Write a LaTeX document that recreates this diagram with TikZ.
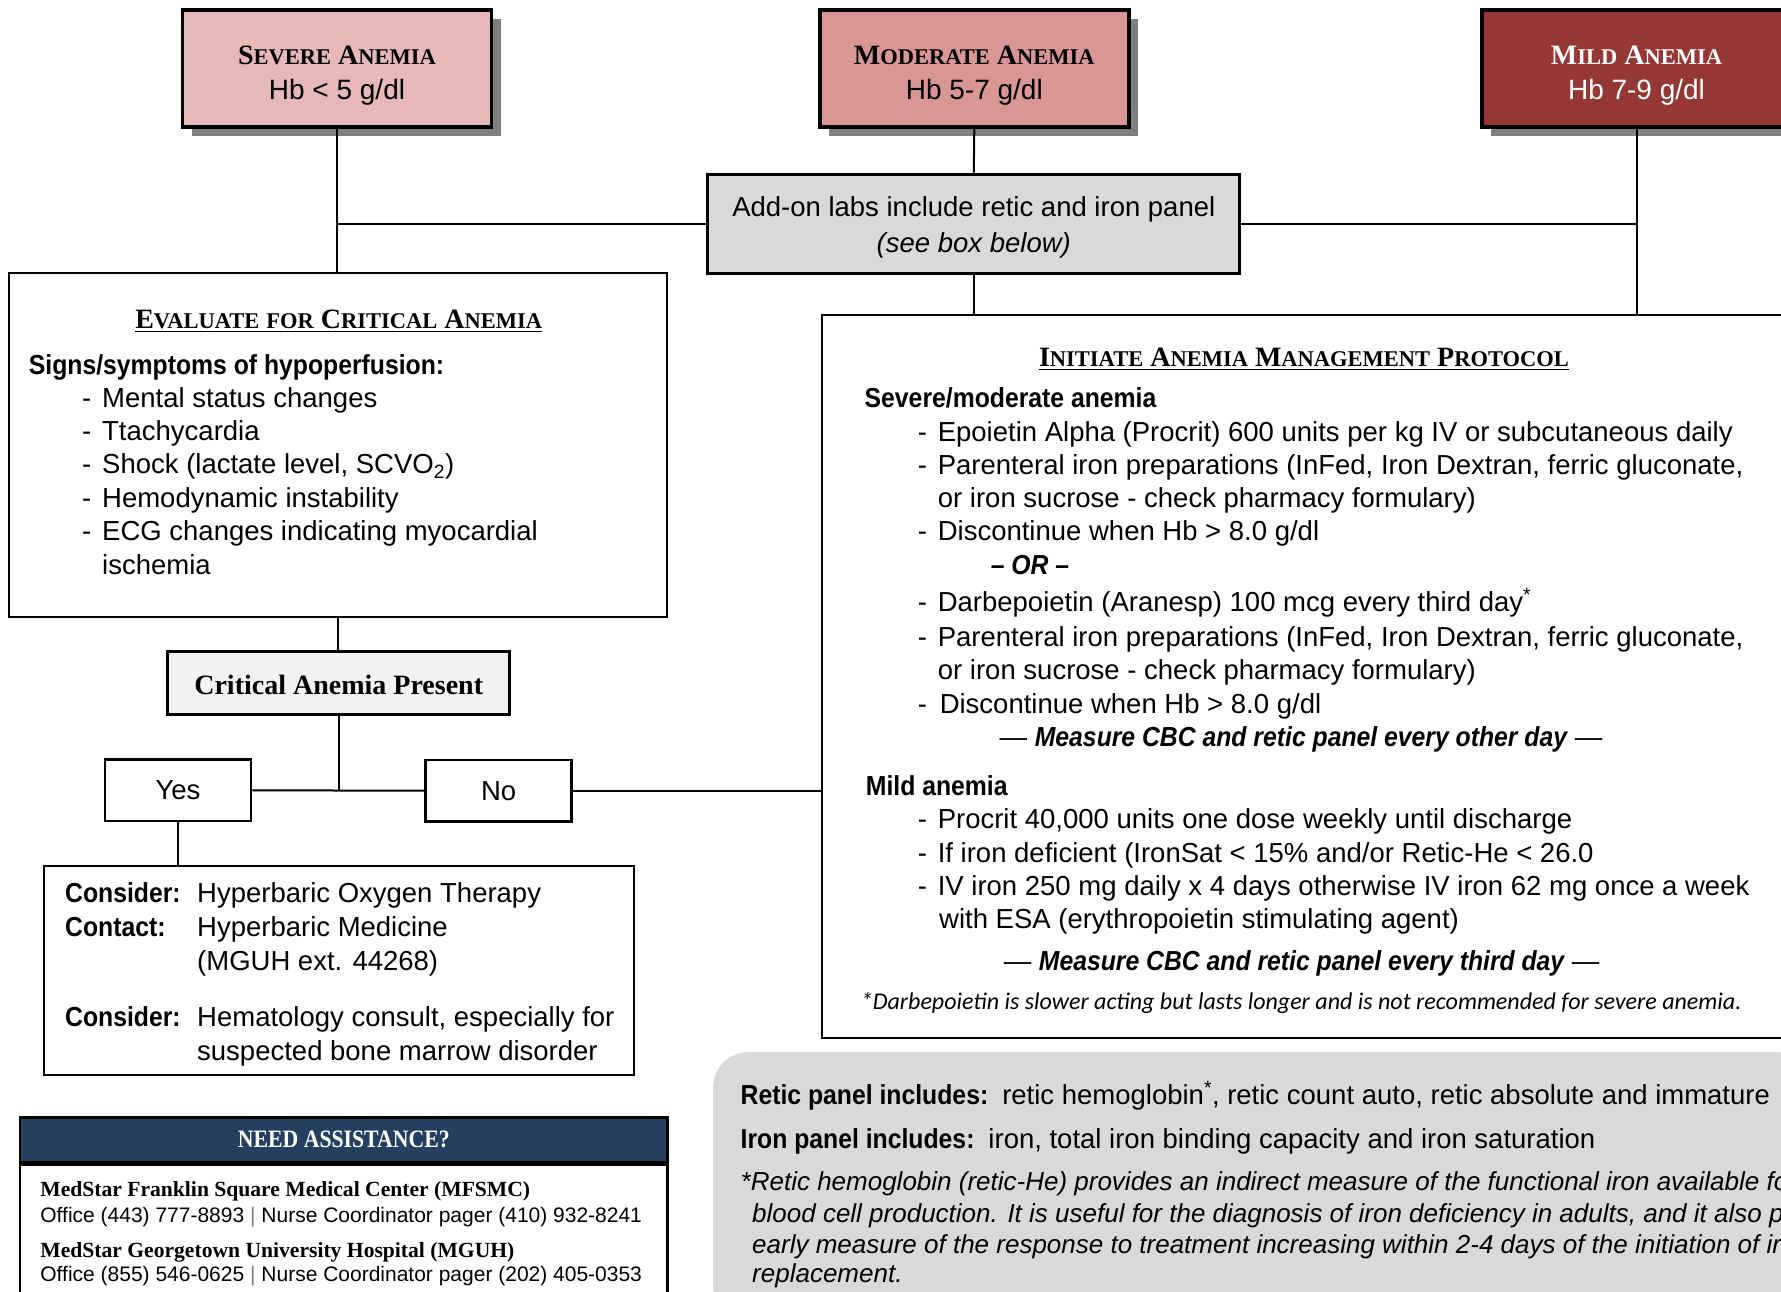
\documentclass[tikz,border=0pt]{standalone}
\usepackage{fontspec}
\setmainfont{Liberation Sans}
\newfontfamily\medfont{Liberation Sans}[FakeStretch=0.9]
\newfontfamily\capfont{Liberation Serif}
\newfontfamily\condfont{Liberation Serif}[FakeStretch=0.87]
\newfontfamily\notefont{Carlito}
\usetikzlibrary{positioning,shadows}

\definecolor{severefill}{HTML}{E6B8B7}
\definecolor{moderatefill}{HTML}{DA9694}
\definecolor{mildfill}{HTML}{953735}
\definecolor{labfill}{HTML}{D9D9D9}
\definecolor{critfill}{HTML}{F2F2F2}
\definecolor{navyhead}{HTML}{243F60}
\definecolor{shadowgray}{HTML}{808080}

\newcommand{\fsc}[2]{{\fontsize{28}{30}\selectfont #1}{\fontsize{22.5}{30}\selectfont #2}}
\newcommand{\fsm}[1]{{\fontsize{22.5}{30}\selectfont #1}}
\newcommand{\dashitem}{\makebox[20pt][l]{-}}
\newcommand{\sepbar}{\textcolor{gray}{|}}

\tikzset{
	hdr/.style={draw, line width=3.5pt, minimum width=309pt, minimum height=117pt, inner sep=0pt, align=center, font=\fontsize{28}{35}\selectfont, drop shadow={shadow xshift=9pt, shadow yshift=-9pt, fill=shadowgray, opacity=1}},
	frame/.style={draw, line width=2.5pt, inner sep=0pt},
	conn/.style={line width=2pt},
	txt/.style={anchor=base west, inner sep=0pt, font=\fontsize{27.5}{33}\selectfont},
	lbl/.style={anchor=base west, inner sep=0pt, font=\fontsize{27.5}{33}\selectfont\medfont\bfseries},
	ttl/.style={anchor=base, inner sep=0pt, font=\fontsize{28}{30}\selectfont\capfont\bfseries},
	ulin/.style={line width=1.8pt},
}

\begin{document}
\begin{tikzpicture}[x=1pt, y=-1pt]
	\useasboundingbox (0,0) rectangle (1781,1291);

	\node[hdr, fill=severefill] (severe) at (337,68.6) {{\capfont\bfseries\rule{0pt}{31.7pt}\fsc{S}{EVERE} \fsc{A}{NEMIA}}\\Hb < 5 g/dl};
	\node[hdr, fill=moderatefill] (moderate) at (974.3,68.6) {{\capfont\bfseries\rule{0pt}{31.7pt}\fsc{M}{ODERATE} \fsc{A}{NEMIA}}\\Hb 5-7 g/dl};
	\node[hdr, fill=mildfill, text=white] (mild) at (1636.5,68.6) {{\capfont\bfseries\rule{0pt}{31.7pt}\fsc{M}{ILD} \fsc{A}{NEMIA}}\\Hb 7-9 g/dl};

	\node[frame, line width=3pt, fill=labfill, minimum width=532pt, minimum height=99pt, align=center, font=\fontsize{27.5}{33}\selectfont] (lab) at (973.8,223.6) {\rule{0pt}{27.5pt}Add-on labs include retic and iron panel\\[3pt]\textit{(see box below)}};

	\node[frame, minimum width=658pt, minimum height=344pt] (evaluate) at (338,445) {};
	\node[ttl] (evtitle) at (338.7,328) {\fsc{E}{VALUATE} \fsm{FOR} \fsc{C}{RITICAL} \fsc{A}{NEMIA}};
	\draw[ulin] ([yshift=-3.5pt]evtitle.base west) -- ([yshift=-3.5pt]evtitle.base east);
	\node[lbl] (ev0) at (28.7,374) {Signs/symptoms of hypoperfusion:};
	\node[txt] (ev1) at (82,407) {\dashitem Mental status changes};
	\node[txt] (ev2) at (82,440) {\dashitem Ttachycardia};
	\node[txt] (ev3) at (82,473.5) {\dashitem Shock (lactate level, SCVO\textsubscript{2})};
	\node[txt] (ev4) at (82,507) {\dashitem Hemodynamic instability};
	\node[txt] (ev5) at (82,540) {\dashitem ECG changes indicating myocardial};
	\node[txt] (ev6) at (102,574) {ischemia};

	\node[frame, fill=critfill, minimum width=342pt, minimum height=63pt, font=\capfont\bfseries\fontsize{28}{30}\selectfont] (critical) at (338.7,683.2) {\rule{0pt}{23pt}Critical Anemia Present};
	\node[frame, minimum width=146pt, minimum height=61.5pt, font=\fontsize{27.5}{30}\selectfont] (yes) at (178,790.3) {Yes};
	\node[frame, minimum width=146pt, minimum height=61.5pt, font=\fontsize{27.5}{30}\selectfont] (no) at (498.6,790.7) {No};

	\node[frame, minimum width=589.6pt, minimum height=209pt] (consider) at (339,970.5) {};
	\node[lbl] (cs1) at (65,902) {Consider:};
	\node[txt] (cs2) at (197,902) {Hyperbaric Oxygen Therapy};
	\node[lbl] (cs3) at (65,936) {Contact:};
	\node[txt] (cs4) at (197,936) {Hyperbaric Medicine};
	\node[txt] (cs5) at (197,970) {(MGUH ext. 44268)};
	\node[lbl] (cs6) at (65,1026) {Consider:};
	\node[txt] (cs7) at (197,1026) {Hematology consult, especially for};
	\node[txt] (cs8) at (197,1060) {suspected bone marrow disorder};

	\node[frame, minimum width=647.6pt, minimum height=44.6pt, fill=navyhead, text=white, font=\condfont\bfseries\fontsize{25}{27}\selectfont] (ashead) at (343.8,1139.7) {NEED ASSISTANCE?};
	\node[frame, minimum width=647.6pt, minimum height=160pt, below=0pt of ashead] (asbody) {};
	\node[txt, font=\capfont\bfseries\fontsize{21.6}{24}\selectfont] (as1) at (40.2,1196) {MedStar Franklin Square Medical Center (MFSMC)};
	\node[txt, font=\fontsize{21}{24}\selectfont] (as2) at (40.2,1222) {Office (443) 777-8893 \sepbar{} Nurse Coordinator pager (410) 932-8241};
	\node[txt, font=\capfont\bfseries\fontsize{21.6}{24}\selectfont] (as3) at (40.2,1257) {MedStar Georgetown University Hospital (MGUH)};
	\node[txt, font=\fontsize{21}{24}\selectfont] (as4) at (40.2,1281) {Office (855) 546-0625 \sepbar{} Nurse Coordinator pager (202) 405-0353};

	\node[frame, minimum width=970pt, minimum height=723pt, anchor=north west] (protocol) at (820.6,313.8) {};
	\node[ttl] (prtitle) at (1304,366) {\fsc{I}{NITIATE} \fsc{A}{NEMIA} \fsc{M}{ANAGEMENT} \fsc{P}{ROTOCOL}};
	\draw[ulin] ([yshift=-3.5pt]prtitle.base west) -- ([yshift=-3.5pt]prtitle.base east);
	\node[lbl] (pr0) at (864.5,407) {Severe/moderate anemia};
	\node[txt] (pr1) at (917.6,441) {\dashitem Epoietin Alpha (Procrit) 600 units per kg IV or subcutaneous daily};
	\node[txt] (pr2) at (917.6,474) {\dashitem Parenteral iron preparations (InFed, Iron Dextran, ferric gluconate,};
	\node[txt] (pr3) at (937.7,507) {or iron sucrose - check pharmacy formulary)};
	\node[txt] (pr4) at (917.6,540) {\dashitem Discontinue when Hb > 8.0 g/dl};
	\node[lbl, anchor=base, font=\fontsize{27.5}{33}\selectfont\medfont\bfseries\itshape] (pr5) at (1030,574) {\textendash{} OR \textendash};
	\node[txt] (pr6) at (917.6,611) {\dashitem Darbepoietin (Aranesp) 100 mcg every third day\textsuperscript{*}};
	\node[txt] (pr7) at (917.6,646) {\dashitem Parenteral iron preparations (InFed, Iron Dextran, ferric gluconate,};
	\node[txt] (pr8) at (937.7,679) {or iron sucrose - check pharmacy formulary)};
	\node[txt] (pr9) at (917.6,713) {\dashitem\hspace{2pt}Discontinue when Hb > 8.0 g/dl};
	\node[txt, anchor=base] (pr10) at (1301,746) {--- {\medfont\bfseries\itshape Measure CBC and retic panel every other day} ---};
	\node[lbl] (pr11) at (865.7,795) {Mild anemia};
	\node[txt] (pr12) at (917.6,828) {\dashitem Procrit 40,000 units one dose weekly until discharge};
	\node[txt] (pr13) at (917.6,862) {\dashitem If iron deficient (IronSat < 15\% and/or Retic-He < 26.0};
	\node[txt] (pr14) at (917.6,895) {\dashitem IV iron 250 mg daily x 4 days otherwise IV iron 62 mg once a week};
	\node[txt] (pr15) at (939,928) {with ESA (erythropoietin stimulating agent)};
	\node[txt, anchor=base] (pr16) at (1301.6,970) {--- {\medfont\bfseries\itshape Measure CBC and retic panel every third day} ---};
	\node[txt, font=\fontsize{24}{26}\selectfont\notefont\itshape] (prnote) at (860.7,1009) {*Darbepoietin is slower acting but lasts longer and is not recommended for severe anemia.};

	\node[fill=labfill, rounded corners=35pt, minimum width=1100pt, minimum height=270pt, inner sep=0pt, anchor=north west] (panel) at (713,1052) {};
	\node[txt] (pn1) at (740.5,1104) {{\medfont\bfseries Retic panel includes:}\hspace{14pt}retic hemoglobin\textsuperscript{*}, retic count auto, retic absolute and immature};
	\node[txt] (pn2) at (740.5,1148) {{\medfont\bfseries Iron panel includes:}\hspace{14pt}iron, total iron binding capacity and iron saturation};
	\node[txt, font=\fontsize{26}{31}\selectfont\itshape] (pn3) at (740.5,1190) {*Retic hemoglobin (retic-He) provides an indirect measure of the functional iron available for};
	\node[txt, font=\fontsize{26}{31}\selectfont\itshape] (pn4) at (752,1222) {blood cell production. It is useful for the diagnosis of iron deficiency in adults, and it also provides};
	\node[txt, font=\fontsize{26}{31}\selectfont\itshape] (pn5) at (752,1253) {early measure of the response to treatment increasing within 2-4 days of the initiation of iron};
	\node[txt, font=\fontsize{26}{31}\selectfont\itshape] (pn6) at (752,1282) {replacement.};

	\draw[conn] (severe.south) -- (severe.south |- evaluate.north);
	\draw[conn] (lab.west) -- (lab.west -| severe.south);
	\draw[conn] (moderate.south) -- (lab.north);
	\draw[conn] (lab.south) -- (lab.south |- protocol.north);
	\draw[conn] (lab.east) -- (lab.east -| mild.south);
	\draw[conn] (mild.south) -- (mild.south |- protocol.north);
	\draw[conn] (evaluate.south) -- (evaluate.south |- critical.north);
	\draw[conn] (critical.south) -- (critical.south |- yes.east);
	\draw[conn] (yes.east) -- (no.west);
	\draw[conn] (no.east) -- (no.east -| protocol.west);
	\draw[conn] (yes.south) -- (yes.south |- consider.north);
\end{tikzpicture}
\end{document}
